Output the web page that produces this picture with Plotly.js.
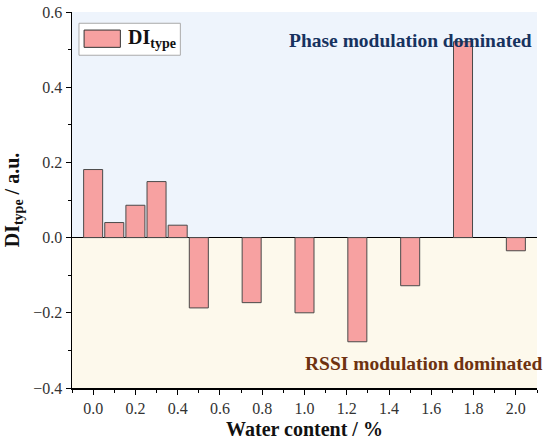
<!DOCTYPE html>
<html>
<head>
<meta charset="utf-8">
<script src="https://cdn.plot.ly/plotly-3.0.1.min.js"></script>
<style>html,body{margin:0;padding:0;background:#fff;}#chart{width:550px;height:444px;}</style>
</head>
<body>
<div id="chart"></div>
<script>
const waterContent = [0.0, 0.1, 0.2, 0.3, 0.4, 0.5, 0.75, 1.0, 1.25, 1.5, 1.75, 2.0];
const diType = [0.181, 0.040, 0.086, 0.149, 0.033, -0.187, -0.173, -0.200, -0.277, -0.128, 0.521, -0.035];
const xTickVals = [0.0, 0.2, 0.4, 0.6, 0.8, 1.0, 1.2, 1.4, 1.6, 1.8, 2.0];
const yTickVals = [-0.4, -0.2, 0.0, 0.2, 0.4, 0.6];

const serif = "Liberation Serif";

const trace = {
  type: 'bar',
  x: waterContent,
  y: diType,
  width: 0.09,
  marker: {color: '#f7a1a1', line: {color: '#4a4a4a', width: 1}},
  showlegend: false,
  hoverinfo: 'x+y'
};

const layout = {
  width: 550, height: 444,
  margin: {l: 72, r: 13, t: 12, b: 56},
  paper_bgcolor: '#ffffff',
  plot_bgcolor: 'rgba(0,0,0,0)',
  font: {family: serif, color: '#222', size: 16},
  xaxis: {
    range: [-0.1, 2.1],
    tickvals: xTickVals,
    ticktext: xTickVals.map(v => v.toFixed(1)),
    ticks: 'outside', ticklen: 5, tickwidth: 1, tickcolor: '#000',
    minor: {dtick: 0.1, ticks: 'outside', ticklen: 3, tickcolor: '#000', showgrid: false},
    showline: true, linecolor: '#000', linewidth: 1.5,
    showgrid: false, zeroline: false,
    tickfont: {family: serif, size: 16, color: '#333'},
    title: {text: '<b>Water content / %</b>', font: {family: serif, size: 20, color: '#111'}, standoff: 6}
  },
  yaxis: {
    range: [-0.4, 0.6],
    tickvals: yTickVals,
    ticktext: yTickVals.map(v => (v < 0 ? '\u2212' + Math.abs(v).toFixed(1) : v.toFixed(1))),
    ticks: 'outside', ticklen: 5, tickwidth: 1, tickcolor: '#000',
    minor: {dtick: 0.1, ticks: 'outside', ticklen: 3, tickcolor: '#000', showgrid: false},
    showline: true, linecolor: '#000', linewidth: 1.5,
    showgrid: false,
    zeroline: true, zerolinecolor: '#000', zerolinewidth: 1.5,
    tickfont: {family: serif, size: 16, color: '#333'},
    title: {text: '<b>DI<sub>type</sub> / a.u.</b>', font: {family: serif, size: 20, color: '#111'}, standoff: 8}
  },
  shapes: [
    {type: 'rect', xref: 'paper', yref: 'y', x0: 0, x1: 1, y0: 0, y1: 0.6, fillcolor: '#eef4fc', line: {width: 0}, layer: 'below'},
    {type: 'rect', xref: 'paper', yref: 'y', x0: 0, x1: 1, y0: -0.4, y1: 0, fillcolor: '#fdf9ec', line: {width: 0}, layer: 'below'},
    {type: 'rect', xref: 'paper', yref: 'paper', x0: 0.015, x1: 0.233, y0: 0.885, y1: 0.97, fillcolor: '#ffffff', line: {color: '#aaaaaa', width: 1}},
    {type: 'rect', xref: 'paper', yref: 'paper', x0: 0.026, x1: 0.104, y0: 0.906, y1: 0.952, fillcolor: '#f7a1a1', line: {color: '#333', width: 1}}
  ],
  annotations: [
    {xref: 'paper', yref: 'paper', x: 0.116, y: 0.929, xanchor: 'left', yanchor: 'middle', showarrow: false,
     text: '<b>DI<sub>type</sub></b>', font: {family: serif, size: 20, color: '#111'}},
    {xref: 'paper', yref: 'paper', x: 0.993, y: 0.925, xanchor: 'right', yanchor: 'middle', showarrow: false,
     text: '<b>Phase modulation dominated</b>', font: {family: serif, size: 19.5, color: '#17325f'}},
    {xref: 'paper', yref: 'paper', x: 1.015, y: 0.065, xanchor: 'right', yanchor: 'middle', showarrow: false,
     text: '<b>RSSI modulation dominated</b>', font: {family: serif, size: 19.5, color: '#6e3210'}}
  ],
  bargap: 0
};

Plotly.newPlot('chart', [trace], layout, {displayModeBar: false, staticPlot: true});
</script>
</body>
</html>
